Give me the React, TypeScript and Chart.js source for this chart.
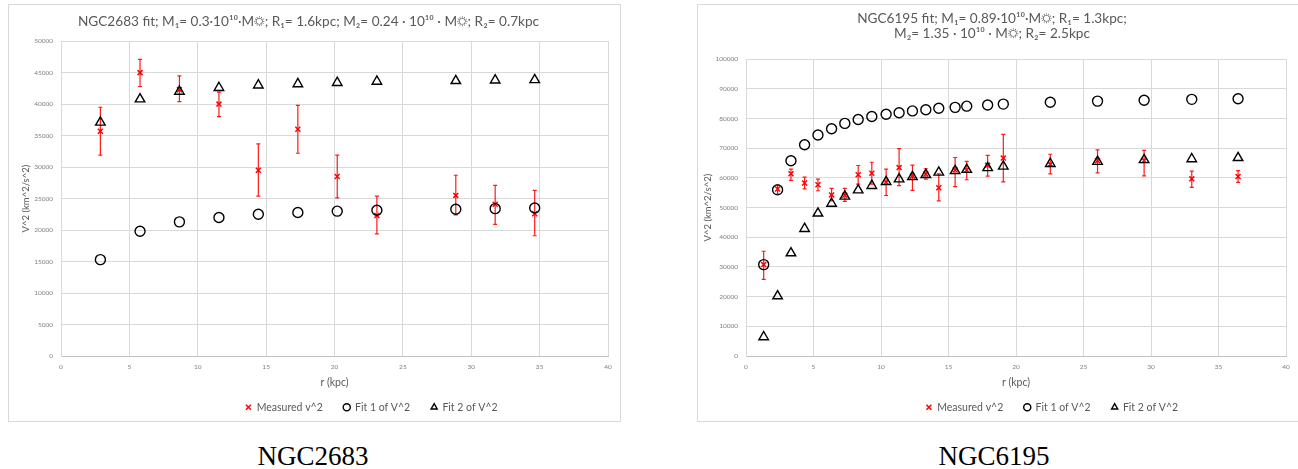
import React, { useEffect, useRef } from 'react';
import { Chart, registerables } from 'chart.js';

Chart.register(...registerables);

const FONT = 'Lato, "Open Sans", "DejaVu Sans", sans-serif';

// ---------- NGC2683 ----------
const ngc2683Title = 'NGC2683 fit; M₁= 0.3·10¹⁰·M☼; R₁= 1.6kpc; M₂= 0.24 · 10¹⁰ · M☼; R₂= 0.7kpc';
const ngc2683Radius = [2.88, 5.78, 8.66, 11.55, 14.43, 17.32, 20.2, 23.1, 28.87, 31.75, 34.64];
const ngc2683Measured = [35700, 45000, 42300, 40000, 29500, 36000, 28500, 22300, 25500, 24100, 22600];
const ngc2683ErrLow = [31900, 42800, 40400, 38000, 25400, 32200, 25100, 19400, 22400, 20900, 19100];
const ngc2683ErrHigh = [39500, 47100, 44500, 41900, 33700, 39800, 31900, 25400, 28700, 27100, 26300];
const ngc2683Fit1 = [15300, 19800, 21300, 22000, 22500, 22800, 23000, 23150, 23300, 23400, 23500];
const ngc2683Fit2 = [37100, 40800, 42000, 42600, 43000, 43200, 43400, 43600, 43700, 43800, 43850];
const ngc2683YTicks = [0, 5000, 10000, 15000, 20000, 25000, 30000, 35000, 40000, 45000, 50000];

// ---------- NGC6195 ----------
const ngc6195Title = ['NGC6195 fit; M₁= 0.89·10¹⁰·M☼; R₁= 1.3kpc;', 'M₂= 1.35 · 10¹⁰ · M☼; R₂= 2.5kpc'];
const ngc6195Radius = [1.31, 2.34, 3.33, 4.34, 5.33, 6.34, 7.32, 8.31, 9.32, 10.38, 11.34, 12.33, 13.32, 14.28, 15.49, 16.35, 17.9, 19.06, 22.54, 26.04, 29.49, 33.02, 36.45];
const ngc6195Measured = [30800, 56300, 61400, 58300, 57700, 54300, 54200, 61100, 61600, 58600, 63500, 60700, 61300, 56700, 62700, 62700, 64300, 66700, 64600, 65800, 65900, 59700, 60500];
const ngc6195ErrLow = [25800, 54600, 59200, 56300, 55700, 52300, 52100, 57900, 57900, 54100, 57400, 55800, 59600, 52300, 57100, 59400, 60600, 58700, 61400, 61700, 60700, 56800, 58500];
const ngc6195ErrHigh = [35300, 57700, 63000, 60300, 59600, 56500, 56500, 64200, 65300, 63000, 69900, 64300, 63100, 61400, 66900, 65600, 67600, 74700, 68000, 69500, 69300, 62300, 62500];
const ngc6195Fit1 = [30800, 56000, 65800, 71200, 74500, 76600, 78400, 79700, 80700, 81500, 82000, 82600, 83000, 83500, 83800, 84200, 84600, 84900, 85500, 85900, 86200, 86500, 86700];
const ngc6195Fit2 = [6400, 20200, 34700, 42900, 48100, 51400, 53800, 55900, 57400, 58700, 59600, 60400, 61100, 61900, 62400, 62800, 63400, 63900, 64800, 65500, 66100, 66400, 66800];
const ngc6195YTicks = [0, 10000, 20000, 30000, 40000, 50000, 60000, 70000, 80000, 90000, 100000];

// ---------- shared ----------
const xTicks = [0, 5, 10, 15, 20, 25, 30, 35, 40];
const legendNames = ['Measured v^2', 'Fit 1 of V^2', 'Fit 2 of V^2'];
const xTitle = 'r (kpc)';
const yTitle = 'V^2 (km^2/s^2)';

type PanelProps = {
  left: number;
  top: number;
  title: string | string[];
  radius: number[];
  measured: number[];
  errLow: number[];
  errHigh: number[];
  fit1: number[];
  fit2: number[];
  yTicks: number[];
  yAxisWidth: number;
  rightPad: number;
  yTitlePad: number;
  titlePadTop: number;
  titlePadBottom: number;
  legendDx: number;
  legendDy: number;
};

const W = 611;
const H = 416;

function Panel(p: PanelProps) {
  const ref = useRef<HTMLCanvasElement | null>(null);

  useEffect(() => {
    if (!ref.current) return;

    const errorBars = {
      id: 'errorBars',
      afterDatasetDraw(chart: any, args: any) {
        if (args.index !== 0) return;
        const ys = chart.scales.y;
        const ctx = chart.ctx;
        const cap = 2;
        ctx.save();
        ctx.strokeStyle = 'rgba(255,0,0,0.9)';
        ctx.lineWidth = 1.2;
        args.meta.data.forEach((pt: any, i: number) => {
          const x = pt.x;
          const y1 = ys.getPixelForValue(p.errLow[i]);
          const y2 = ys.getPixelForValue(p.errHigh[i]);
          ctx.beginPath();
          ctx.moveTo(x, y1);
          ctx.lineTo(x, y2);
          ctx.moveTo(x - cap, y1);
          ctx.lineTo(x + cap, y1);
          ctx.moveTo(x - cap, y2);
          ctx.lineTo(x + cap, y2);
          ctx.stroke();
        });
        ctx.restore();
      },
    };

    const legendShift = {
      id: 'legendShift',
      afterLayout(chart: any) {
        const lg = chart.legend;
        if (!lg) return;
        lg.left += p.legendDx;
        lg.right += p.legendDx;
        lg.top += p.legendDy;
        lg.bottom = chart.height;
      },
    };

    const toPts = (vals: number[]) => p.radius.map((r, i) => ({ x: r, y: vals[i] }));

    const chart = new Chart(ref.current, {
      type: 'scatter',
      data: {
        datasets: [
          {
            label: legendNames[0],
            data: toPts(p.measured),
            pointStyle: 'crossRot',
            pointRadius: 3.5,
            borderColor: '#ff0000',
            backgroundColor: '#ff0000',
            borderWidth: 1.5,
            order: 2,
          },
          {
            label: legendNames[1],
            data: toPts(p.fit1),
            pointStyle: 'circle',
            pointRadius: 5,
            borderColor: '#000000',
            backgroundColor: 'rgba(0,0,0,0)',
            borderWidth: 1.4,
            order: 1,
          },
          {
            label: legendNames[2],
            data: toPts(p.fit2),
            pointStyle: 'triangle',
            pointRadius: 5.5,
            borderColor: '#000000',
            backgroundColor: 'rgba(0,0,0,0)',
            borderWidth: 1.4,
            order: 0,
          },
        ],
      },
      options: {
        responsive: false,
        animation: false,
        devicePixelRatio: 1,
        layout: { padding: { left: 0, right: p.rightPad, top: 0, bottom: 0 } },
        plugins: {
          title: {
            display: true,
            text: p.title,
            color: '#595959',
            font: { family: FONT, size: 13.6, weight: 'normal', lineHeight: 1.04 },
            padding: { top: p.titlePadTop, bottom: p.titlePadBottom },
          },
          legend: {
            display: true,
            position: 'bottom',
            maxHeight: 30,
            labels: {
              usePointStyle: true,
              boxWidth: 6,
              boxHeight: 5,
              padding: 21,
              color: '#595959',
              font: { family: FONT, size: 10.5 },
              sort: (a: any, b: any) => a.datasetIndex - b.datasetIndex,
            },
          },
          tooltip: { enabled: false },
        },
        scales: {
          x: {
            type: 'linear',
            min: 0,
            max: 40,
            afterBuildTicks: (axis: any) => {
              axis.ticks = xTicks.map((v) => ({ value: v }));
            },
            afterFit: (axis: any) => {
              axis.height = 35;
            },
            ticks: {
              color: '#808080',
              font: { family: FONT, size: 6.5 },
              padding: 7,
              maxRotation: 0,
              callback: (v: any) => String(v),
            },
            grid: { color: '#d9d9d9', lineWidth: 1, drawTicks: false },
            border: { color: '#bfbfbf', width: 1 },
            title: {
              display: true,
              text: xTitle,
              color: '#595959',
              font: { family: FONT, size: 10.5 },
              padding: { top: 0, bottom: 2.5 },
            },
          },
          y: {
            type: 'linear',
            min: 0,
            max: p.yTicks[p.yTicks.length - 1],
            afterBuildTicks: (axis: any) => {
              axis.ticks = p.yTicks.map((v) => ({ value: v }));
            },
            afterFit: (axis: any) => {
              axis.width = p.yAxisWidth;
            },
            ticks: {
              color: '#808080',
              font: { family: FONT, size: 6.5 },
              padding: 8,
              callback: (v: any) => String(v),
            },
            grid: { color: '#d9d9d9', lineWidth: 1, drawTicks: false },
            border: { color: '#d9d9d9', width: 1 },
            title: {
              display: true,
              text: yTitle,
              color: '#595959',
              font: { family: FONT, size: 9.5 },
              padding: { top: p.yTitlePad, bottom: 0 },
            },
          },
        },
      },
      plugins: [errorBars, legendShift],
    } as any);

    return () => chart.destroy();
  }, []);

  return (
    <div
      style={{
        position: 'absolute',
        left: p.left,
        top: p.top,
        width: W + 2,
        height: H + 2,
        border: '1px solid #d9d9d9',
        boxSizing: 'border-box',
        background: '#ffffff',
      }}
    >
      <canvas ref={ref} width={W} height={H} style={{ position: 'absolute', left: 0, top: 0, width: W, height: H }} />
    </div>
  );
}

const captionStyle: React.CSSProperties = {
  position: 'absolute',
  top: 443,
  width: 240,
  textAlign: 'center',
  fontFamily: '"Liberation Serif", "DejaVu Serif", serif',
  fontSize: 27,
  lineHeight: '27px',
  color: '#000',
};

export default function App() {
  return (
    <div style={{ position: 'absolute', left: 0, top: 0, width: 1298, height: 469, overflow: 'hidden', background: '#ffffff' }}>
      <Panel
        left={8}
        top={4}
        title={ngc2683Title}
        radius={ngc2683Radius}
        measured={ngc2683Measured}
        errLow={ngc2683ErrLow}
        errHigh={ngc2683ErrHigh}
        fit1={ngc2683Fit1}
        fit2={ngc2683Fit2}
        yTicks={ngc2683YTicks}
        yAxisWidth={52}
        rightPad={12}
        yTitlePad={11}
        titlePadTop={10}
        titlePadBottom={12}
        legendDx={63}
        legendDy={-10}
      />
      <Panel
        left={697}
        top={4}
        title={ngc6195Title}
        radius={ngc6195Radius}
        measured={ngc6195Measured}
        errLow={ngc6195ErrLow}
        errHigh={ngc6195ErrHigh}
        fit1={ngc6195Fit1}
        fit2={ngc6195Fit2}
        yTicks={ngc6195YTicks}
        yAxisWidth={48}
        rightPad={23}
        yTitlePad={4.5}
        titlePadTop={7}
        titlePadBottom={19}
        legendDx={60}
        legendDy={-10}
      />
      <div style={{ ...captionStyle, left: 313 - 120 }}>NGC2683</div>
      <div style={{ ...captionStyle, left: 994 - 120 }}>NGC6195</div>
    </div>
  );
}
